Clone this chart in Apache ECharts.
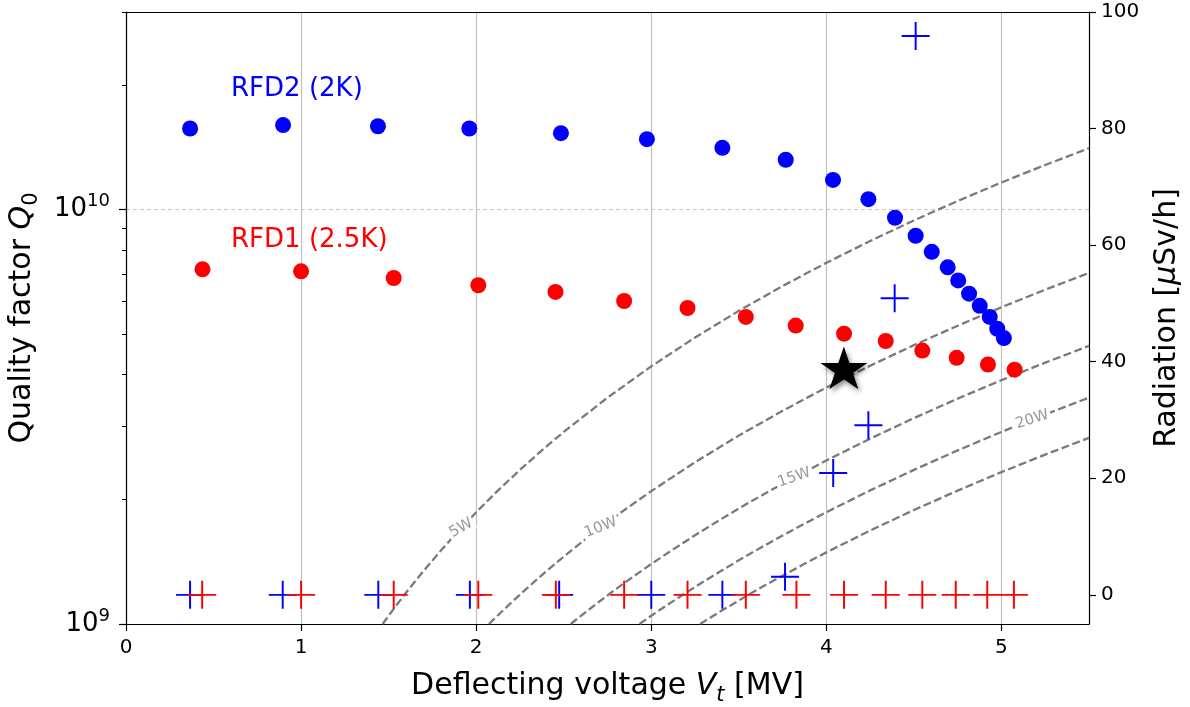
<!DOCTYPE html>
<html><head><meta charset="utf-8">
<script src="https://cdn.jsdelivr.net/npm/echarts@6/dist/echarts.min.js"></script>
<style>html,body{margin:0;padding:0;background:#fff}#c{width:1190px;height:707px}</style>
</head><body><div id="c"></div>
<script>
// ---------- data ----------
// RFD2 (2K): quality factor vs deflecting voltage
const rfd2V = [0.366,0.897,1.439,1.961,2.484,2.975,3.406,3.768,4.038,4.240,4.392,4.510,4.602,4.693,4.753,4.815,4.876,4.933,4.976,5.014];
const rfd2Q = [1.57e10,1.60e10,1.59e10,1.57e10,1.53e10,1.48e10,1.41e10,1.32e10,1.18e10,1.06e10,9.56e9,8.65e9,7.91e9,7.26e9,6.75e9,6.27e9,5.86e9,5.51e9,5.16e9,4.90e9];
// RFD2 radiation (µSv/h)
const rfd2RadV = [0.366,0.895,1.441,1.964,2.474,3.000,3.406,3.764,4.039,4.240,4.390,4.510];
const rfd2Rad  = [0,0,0,0,0,0,0,3.1,20.9,29.1,50.9,95.9];
// RFD1 (2.5K)
const rfd1V = [0.437,1.000,1.529,2.012,2.453,2.845,3.207,3.540,3.825,4.101,4.339,4.548,4.744,4.923,5.075];
const rfd1Q = [7.18e9,7.10e9,6.84e9,6.57e9,6.33e9,6.02e9,5.79e9,5.51e9,5.25e9,5.02e9,4.82e9,4.57e9,4.39e9,4.23e9,4.11e9];
const rfd1RadV = [0.435,1.000,1.529,2.012,2.455,2.845,3.207,3.540,3.829,4.101,4.339,4.548,4.739,4.919,5.071];
const rfd1Rad  = [0,0,0,0,0,0,0,0,0,0,0,0,0,0,0];
// star marker
const starV = [4.10];
const starQ = [4.15e9];
// iso-power dashed curves (V in MV, Q0)
const p5V  = [1.466,1.5,1.55,1.6,1.7,1.8,1.914,2.0,2.125,2.25,2.375,2.5,2.75,3.0,3.25,3.5,3.75,4.0,4.25,4.5,4.75,5.0,5.25,5.5];
const p5Q  = [1.00e9,1.047e9,1.118e9,1.191e9,1.344e9,1.507e9,1.704e9,1.861e9,2.101e9,2.355e9,2.624e9,2.908e9,3.518e9,4.187e9,4.914e9,5.699e9,6.542e9,7.443e9,8.403e9,9.420e9,1.0496e10,1.163e10,1.2822e10,1.407e10];
const p10V = [2.073,2.1,2.15,2.2,2.3,2.4,2.5,2.6,2.712,2.85,3.0,3.25,3.5,3.75,4.0,4.25,4.5,4.75,5.0,5.25,5.5];
const p10Q = [1.00e9,1.026e9,1.075e9,1.126e9,1.230e9,1.340e9,1.454e9,1.572e9,1.711e9,1.889e9,2.093e9,2.457e9,2.849e9,3.271e9,3.722e9,4.201e9,4.710e9,5.248e9,5.815e9,6.411e9,7.036e9];
const p15V = [2.540,2.57,2.62,2.7,2.8,2.9,3.0,3.125,3.25,3.375,3.5,3.65,3.816,4.0,4.25,4.5,4.75,5.0,5.25,5.5];
const p15Q = [1.00e9,1.024e9,1.064e9,1.130e9,1.216e9,1.304e9,1.396e9,1.514e9,1.638e9,1.766e9,1.900e9,2.066e9,2.258e9,2.481e9,2.801e9,3.140e9,3.499e9,3.877e9,4.274e9,4.691e9];
const p20V = [2.933,2.96,3.0,3.05,3.1,3.2,3.3,3.4,3.5,3.625,3.75,3.875,4.0,4.25,4.5,4.75,5.0,5.176,5.25,5.5];
const p20Q = [1.00e9,1.019e9,1.047e9,1.082e9,1.118e9,1.191e9,1.267e9,1.344e9,1.425e9,1.528e9,1.635e9,1.746e9,1.861e9,2.101e9,2.355e9,2.624e9,2.908e9,3.116e9,3.206e9,3.518e9];
const p25V = [3.279,3.31,3.35,3.4,3.45,3.55,3.65,3.75,3.875,4.0,4.25,4.5,4.75,5.0,5.25,5.5];
const p25Q = [1.00e9,1.019e9,1.044e9,1.076e9,1.107e9,1.173e9,1.240e9,1.308e9,1.397e9,1.489e9,1.681e9,1.884e9,2.099e9,2.326e9,2.564e9,2.814e9];
// curve labels (anchored on the curves)
const curveLabelText = ['5W','10W','15W','20W'];
const curveLabelV = [1.914,2.712,3.816,5.176];
const curveLabelQ = [1.704e9,1.711e9,2.258e9,3.116e9];
// axis ticks
const xTicks = [0,1,2,3,4,5];
const qMajorTicks = [1e9,1e10];
const qMinorTicks = [2e9,3e9,4e9,5e9,6e9,7e9,8e9,9e9,2e10,3e10];
const radTicks = [0,20,40,60,80,100];
// text annotations
const annoText = ['RFD2 (2K)','RFD1 (2.5K)'];
const annoV = [0.6,0.6];
const annoQ = [1.95e10,8.45e9];

// ---------- chart ----------
const zip = (a,b) => a.map((v,i) => [v,b[i]]);
const FONT = 'DejaVu Sans';
const BLUE = '#0000ff', RED = '#ff0000', DASH = '#7a7a7a';
const STAR = 'path://M0,-1L0.2245,-0.309L0.951,-0.309L0.3633,0.118L0.588,0.809L0,0.382L-0.588,0.809L-0.3633,0.118L-0.951,-0.309L-0.2245,-0.309Z';
const PLUS = 'path://M-0.07,-1L0.07,-1L0.07,1L-0.07,1Z M-1,-0.07L1,-0.07L1,0.07L-1,0.07Z';
const labelRot = [30, 22, 19, 17];

function powerLine(v, q) {
  return {
    type: 'line', xAxisIndex: 0, yAxisIndex: 0, data: zip(v, q),
    symbol: 'none', smooth: false, z: 1, silent: true,
    lineStyle: { color: DASH, width: 2.3, type: [8, 3.5], opacity: 1 }
  };
}

const chart = echarts.init(document.getElementById('c'), null, { renderer: 'canvas' });
const axisLineStyle = { color: '#000', width: 1.2 };
chart.setOption({
  animation: false,
  backgroundColor: '#fff',
  textStyle: { fontFamily: FONT },
  grid: { left: 126, right: 101, top: 12, bottom: 83, containLabel: false, outerBoundsMode: 'none' },
  xAxis: [{
    type: 'value', min: 0, max: 5.5, position: 'bottom',
    axisLine: { show: true, onZero: false, lineStyle: axisLineStyle },
    axisTick: { show: true, inside: false, length: 7, customValues: xTicks, lineStyle: { color: '#000', width: 1.2 } },
    axisLabel: { customValues: xTicks, fontSize: 20, color: '#000', margin: 14, fontFamily: FONT },
    splitLine: { show: true, lineStyle: { color: '#c0c0c0', width: 1.2 } },
    name: '{n|Deflecting voltage }{i|V}{s|t}{n| [MV]}',
    nameLocation: 'middle', nameGap: 42,
    nameTextStyle: { rich: {
      n: { fontSize: 30, fontFamily: FONT, color: '#000', lineHeight: 40 },
      i: { fontSize: 30, fontFamily: FONT, fontStyle: 'italic', color: '#000', lineHeight: 40 },
      s: { fontSize: 21, fontFamily: FONT, fontStyle: 'italic', color: '#000', verticalAlign: 'bottom' }
    } }
  }, {
    type: 'value', min: 0, max: 5.5, position: 'top',
    axisLine: { show: true, onZero: false, lineStyle: axisLineStyle },
    axisTick: { show: false }, axisLabel: { show: false }, splitLine: { show: false }
  }],
  yAxis: [{
    type: 'log', logBase: 10, min: 1e9, max: 3e10, position: 'left',
    axisLine: { show: true, onZero: false, lineStyle: axisLineStyle },
    axisTick: { show: true, inside: false, length: 7, customValues: qMajorTicks, lineStyle: { color: '#000', width: 1.2 } },
    axisLabel: {
      customValues: qMajorTicks, margin: 16, color: '#000',
      formatter: v => '{b|10}{s|' + Math.round(Math.log10(v)) + '}',
      rich: {
        b: { fontSize: 26, fontFamily: FONT, color: '#000', lineHeight: 34 },
        s: { fontSize: 18, fontFamily: FONT, color: '#000', verticalAlign: 'top' }
      }
    },
    splitLine: { show: true, lineStyle: { color: '#c8c8c8', width: 1, type: [4, 3] } },
    minorTick: { show: false }, minorSplitLine: { show: false },
    name: '{n|Quality factor }{i|Q}{s|0}',
    nameLocation: 'middle', nameGap: 84, nameRotate: 90,
    nameTextStyle: { rich: {
      n: { fontSize: 30, fontFamily: FONT, color: '#000', lineHeight: 40 },
      i: { fontSize: 30, fontFamily: FONT, fontStyle: 'italic', color: '#000', lineHeight: 40 },
      s: { fontSize: 21, fontFamily: FONT, color: '#000', verticalAlign: 'bottom' }
    } }
  }, {
    type: 'log', logBase: 10, min: 1e9, max: 3e10, position: 'left',
    axisLine: { show: false },
    axisTick: { show: true, inside: false, length: 4, customValues: qMinorTicks, lineStyle: { color: '#000', width: 1 } },
    axisLabel: { show: false }, splitLine: { show: false }
  }, {
    type: 'value', min: -5, max: 100, position: 'right',
    axisLine: { show: true, onZero: false, lineStyle: axisLineStyle },
    axisTick: { show: true, inside: false, length: 7, customValues: radTicks, lineStyle: { color: '#000', width: 1.2 } },
    axisLabel: { customValues: radTicks, fontSize: 20, color: '#000', margin: 12, fontFamily: FONT },
    splitLine: { show: false },
    name: '{n|Radiation [}{i|μ}{n|Sv/h]}',
    nameLocation: 'middle', nameGap: 58, nameRotate: 90,
    nameTextStyle: { rich: {
      n: { fontSize: 30, fontFamily: FONT, color: '#000', lineHeight: 40 },
      i: { fontSize: 30, fontFamily: FONT, fontStyle: 'italic', color: '#000', lineHeight: 40 }
    } }
  }],
  series: [
    powerLine(p5V, p5Q), powerLine(p10V, p10Q), powerLine(p15V, p15Q),
    powerLine(p20V, p20Q), powerLine(p25V, p25Q),
    {
      type: 'scatter', xAxisIndex: 0, yAxisIndex: 0, z: 3, silent: true,
      symbolSize: 0, itemStyle: { opacity: 1, color: '#fff' },
      data: curveLabelText.map((t, i) => ({
        value: [curveLabelV[i], curveLabelQ[i]],
        label: { show: true, formatter: t, position: 'inside', rotate: labelRot[i],
          fontSize: 15, fontFamily: FONT, color: '#999999', opacity: 1,
          backgroundColor: '#fff', padding: [0, 2] }
      }))
    },
    {
      type: 'scatter', xAxisIndex: 0, yAxisIndex: 2, z: 4, silent: true,
      symbol: PLUS, symbolSize: 28, itemStyle: { color: BLUE, opacity: 1 },
      data: zip(rfd2RadV, rfd2Rad)
    },
    {
      type: 'scatter', xAxisIndex: 0, yAxisIndex: 2, z: 4, silent: true,
      symbol: PLUS, symbolSize: 28, itemStyle: { color: RED, opacity: 1 },
      data: zip(rfd1RadV, rfd1Rad)
    },
    {
      type: 'scatter', xAxisIndex: 0, yAxisIndex: 0, z: 5, silent: true,
      symbol: 'circle', symbolSize: 16, itemStyle: { color: BLUE, opacity: 1 },
      data: zip(rfd2V, rfd2Q)
    },
    {
      type: 'scatter', xAxisIndex: 0, yAxisIndex: 0, z: 5, silent: true,
      symbol: 'circle', symbolSize: 16, itemStyle: { color: RED, opacity: 1 },
      data: zip(rfd1V, rfd1Q)
    },
    {
      type: 'scatter', xAxisIndex: 0, yAxisIndex: 0, z: 6, silent: true,
      symbol: STAR, symbolSize: [47, 45], symbolKeepAspect: true,
      itemStyle: { color: '#000', opacity: 1, shadowBlur: 5, shadowColor: 'rgba(0,0,0,0.45)', shadowOffsetX: 2, shadowOffsetY: 3 },
      data: zip(starV, starQ)
    },
    {
      type: 'scatter', xAxisIndex: 0, yAxisIndex: 0, z: 6, silent: true,
      symbolSize: 0, itemStyle: { opacity: 1, color: '#fff' },
      data: annoText.map((t, i) => ({
        value: [annoV[i], annoQ[i]],
        label: { show: true, formatter: t, position: 'right', distance: 0, opacity: 1,
          fontSize: 26, fontFamily: FONT, color: i === 0 ? BLUE : RED }
      }))
    }
  ]
});
</script>
</body></html>
